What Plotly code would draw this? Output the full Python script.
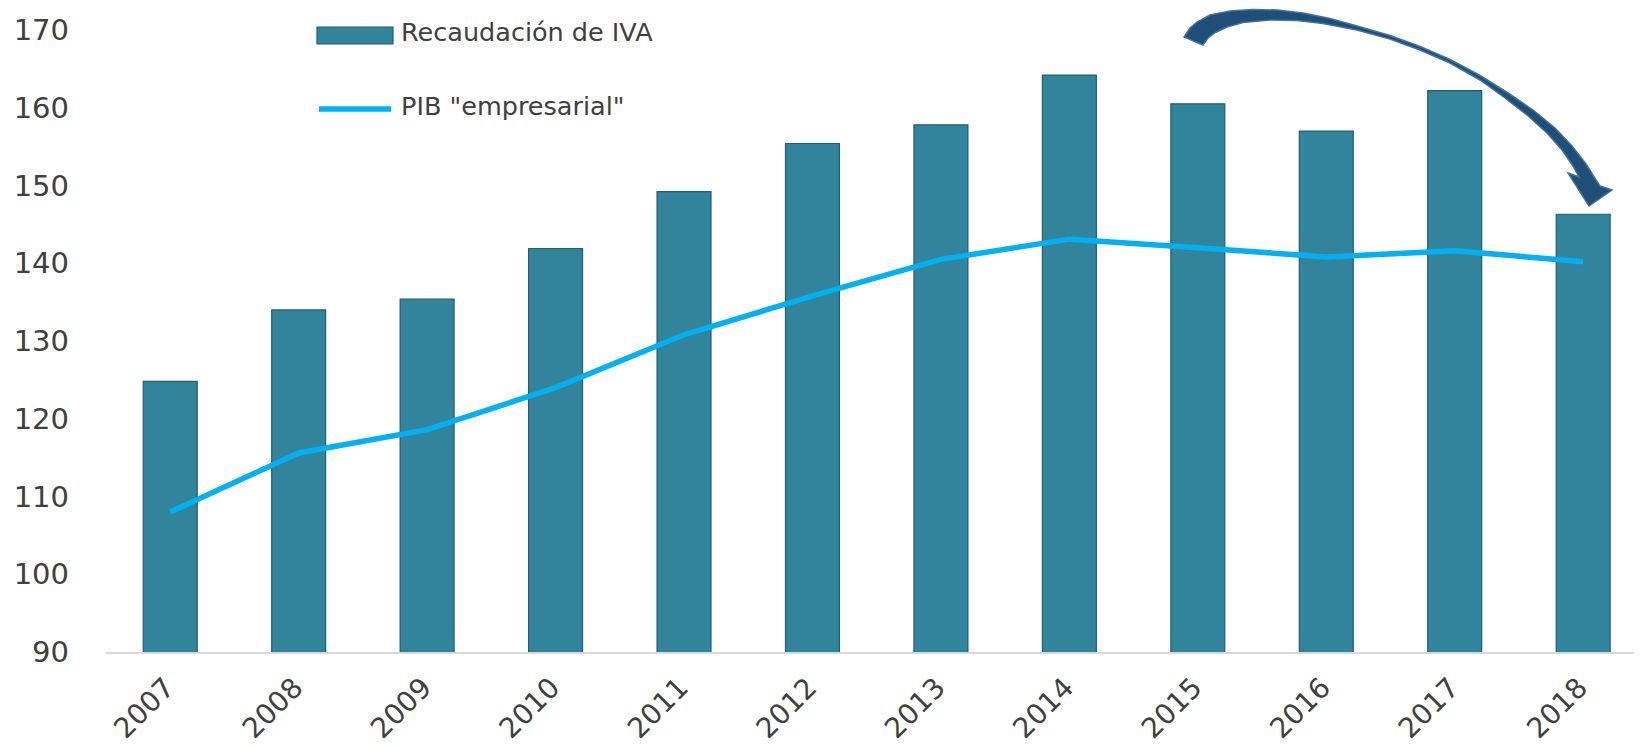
import plotly.graph_objects as go

years = ["2007", "2008", "2009", "2010", "2011", "2012", "2013", "2014", "2015", "2016", "2017", "2018"]
iva = [124.8, 134.0, 135.4, 141.9, 149.2, 155.4, 157.8, 164.2, 160.5, 157.0, 162.2, 146.3]
pib = [108.0, 115.6, 118.6, 124.0, 130.8, 135.8, 140.5, 143.1, 142.0, 140.8, 141.6, 140.2]
y_ticks = [90, 100, 110, 120, 130, 140, 150, 160, 170]

# the page body has an 8px margin, so the figure sits at (8, 8) in the window
OFF = 8
W, H = 1634, 739
L, R, T, B = 98, 0, 22, 95
PW, PH = W - L - R, H - T - B

def px(x):  # window pixel -> paper
    return (x - OFF - L) / PW

def py(y):
    return (H - B - (y - OFF)) / PH

FONT = "DejaVu Sans"
TXT = "#404040"

fig = go.Figure()
fig.add_trace(go.Bar(
    x=years, y=iva, name="Recaudación de IVA",
    marker=dict(color="#31849B", line=dict(color="#215f72", width=1.2)),
    showlegend=False,
))
fig.add_trace(go.Scatter(
    x=years, y=pib, name='PIB "empresarial"', mode="lines",
    line=dict(color="#00B0F0", width=5.5),
    showlegend=False,
))

shapes = []
# manual legend
shapes.append(dict(type="rect", xref="paper", yref="paper",
                   x0=px(317), x1=px(393), y0=py(44), y1=py(27),
                   fillcolor="#31849B", line=dict(color="#215f72", width=1.2)))
shapes.append(dict(type="line", xref="paper", yref="paper",
                   x0=px(319), x1=px(391), y0=py(109), y1=py(109),
                   line=dict(color="#00B0F0", width=5.5)))

# curved arrow
outer = [(1184, 37), (1190, 28), (1197, 22), (1210, 15), (1230, 11), (1253, 9.5),
         (1277, 10), (1303, 13), (1330, 18.5), (1357, 26), (1390, 35.5), (1420, 46.5),
         (1450, 59.5), (1480, 75.5), (1508, 93), (1533, 110), (1555, 128), (1572, 146),
         (1586, 164), (1596, 180), (1600, 186)]
head = [(1612, 190), (1589, 206), (1568, 173), (1579, 177)]
inner = [(1573, 166), (1562, 150), (1547, 133), (1527, 115), (1505, 98), (1480, 80),
         (1450, 63), (1420, 50), (1390, 39), (1357, 30), (1323, 23.5), (1297, 20.5),
         (1270, 20), (1243, 22.5), (1227, 27), (1215, 32.7), (1208, 38), (1203, 45)]
pts = outer + head + inner
path = "M " + " L ".join(f"{px(x):.5f},{py(y):.5f}" for x, y in pts) + " Z"
shapes.append(dict(type="path", xref="paper", yref="paper", path=path,
                   fillcolor="#1F4E79", line=dict(color="#41719f", width=1.5)))

annotations = [
    dict(x=px(399), y=py(32), xref="paper", yref="paper", text="Recaudación de IVA",
         showarrow=False, xanchor="left", yanchor="middle",
         font=dict(family=FONT, size=25.5, color=TXT)),
    dict(x=px(399), y=py(106), xref="paper", yref="paper", text='PIB "empresarial"',
         showarrow=False, xanchor="left", yanchor="middle",
         font=dict(family=FONT, size=25.5, color=TXT)),
]

fig.update_layout(
    width=W, height=H,
    margin=dict(l=L, r=R, t=T, b=B),
    paper_bgcolor="white", plot_bgcolor="white",
    bargap=0.58,
    shapes=shapes, annotations=annotations,
    font=dict(family=FONT, color=TXT),
    xaxis=dict(
        type="category", tickangle=-45, range=[-0.5, 11.458],
        tickfont=dict(family=FONT, size=28, color=TXT),
        showgrid=False, showline=True, linecolor="#d9d9d9", linewidth=2,
        ticks="", ticklabelstandoff=6, ticklabelshift=-4,
    ),
    yaxis=dict(
        range=[90, 170], tickvals=y_ticks,
        tickfont=dict(family=FONT, size=29, color=TXT),
        showgrid=False, zeroline=False, showline=False, ticks="",
        ticklabelstandoff=36,
    ),
)

fig.write_html("out.html")
